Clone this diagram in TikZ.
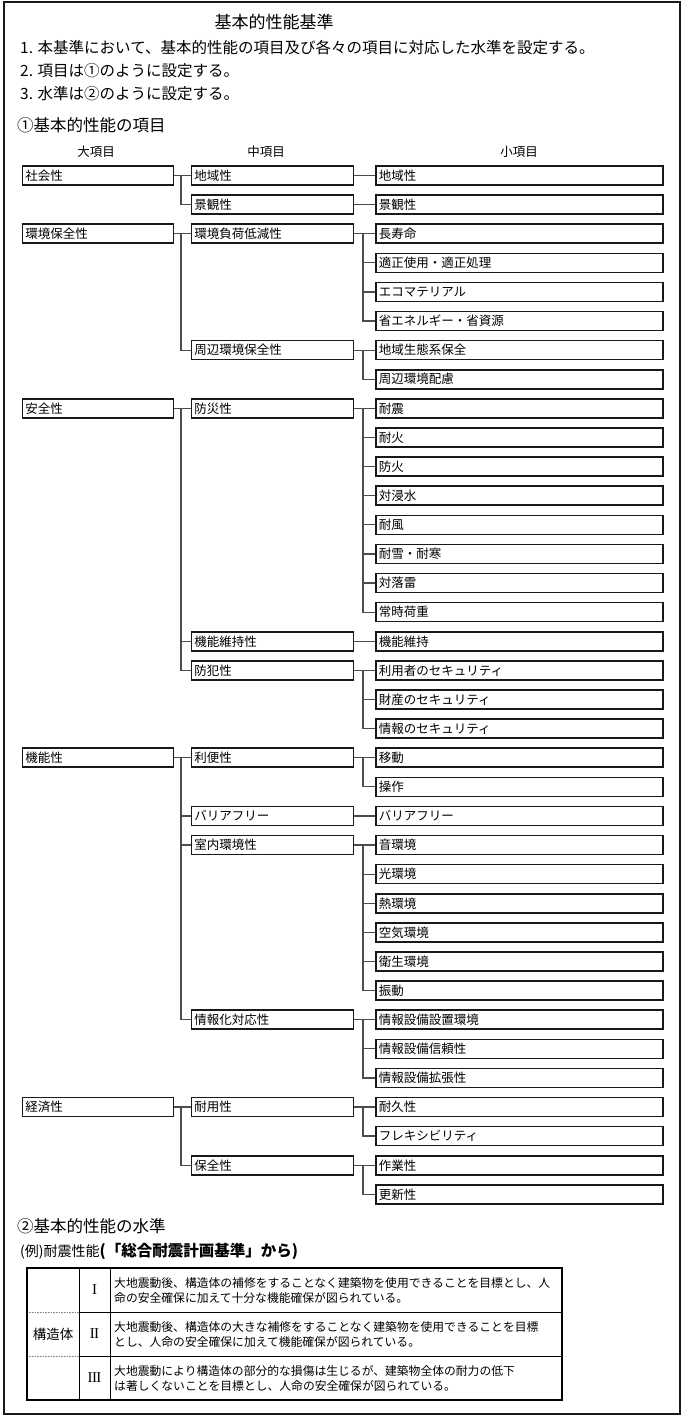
\documentclass[tikz,border=0pt]{standalone}
\usepackage{fontspec}
\newfontfamily\jp{Noto Sans CJK JP}
\newfontfamily\rmn{Liberation Serif}
\usetikzlibrary{calc}
\begin{document}
\begin{tikzpicture}[x=1pt,y=-1pt,
  every node/.style={font=\jp, inner sep=0pt},
  bx/.style={draw=black!90, line width=1.5pt, fill=white, anchor=west, minimum height=19pt, inner xsep=3pt, align=left, font=\jp\fontsize{12.5}{14}\selectfont},
  bA/.style={bx, text width=145pt},
  bB/.style={bx, text width=156pt},
  bC/.style={bx, text width=281pt},
  conn/.style={draw=black!70, line width=1.3pt},
  hdr/.style={anchor=west, font=\jp\fontsize{15.5}{17}\selectfont},
  cell/.style={font=\jp\fontsize{11.8}{15}\selectfont, align=left, anchor=west},
]
\useasboundingbox (0,0) rectangle (683,1416);
\draw[line width=2pt, draw=black!90] (3.5,1.5) rectangle (679.5,1414);

\node[font=\jp\fontsize{17}{19}\selectfont] (title) at (274,22) {基本的性能基準};
\node[hdr] (l1) at (20,48) {1. 本基準において、基本的性能の項目及び各々の項目に対応した水準を設定する。};
\node[hdr] (l2) at (20,71) {2. 項目は①のように設定する。};
\node[hdr] (l3) at (20,94) {3. 水準は②のように設定する。};
\node[anchor=west, font=\jp\fontsize{16.5}{18}\selectfont] (s1) at (17,125) {①基本的性能の項目};
\node[font=\jp\fontsize{12.5}{14}\selectfont] (hA) at (96,152) {大項目};
\node[font=\jp\fontsize{12.5}{14}\selectfont] (hB) at (266,152) {中項目};
\node[font=\jp\fontsize{12.5}{14}\selectfont] (hC) at (519,152) {小項目};

\coordinate (t1) at (181,0);
\coordinate (t2) at (363,0);

% column A
\node[bA] (a1) at (21.5,175.5+29.11*0) {社会性};
\node[bA] (a2) at (21.5,175.5+29.11*2) {環境保全性};
\node[bA] (a3) at (21.5,175.5+29.11*8) {安全性};
\node[bA] (a4) at (21.5,175.5+29.11*20) {機能性};
\node[bA] (a5) at (21.5,175.5+29.11*32) {経済性};

% column B
\node[bB] (b1) at (190.5,175.5+29.11*0) {地域性};
\node[bB] (b2) at (190.5,175.5+29.11*1) {景観性};
\node[bB] (b3) at (190.5,175.5+29.11*2) {環境負荷低減性};
\node[bB] (b4) at (190.5,175.5+29.11*6) {周辺環境保全性};
\node[bB] (b5) at (190.5,175.5+29.11*8) {防災性};
\node[bB] (b6) at (190.5,175.5+29.11*16) {機能維持性};
\node[bB] (b7) at (190.5,175.5+29.11*17) {防犯性};
\node[bB] (b8) at (190.5,175.5+29.11*20) {利便性};
\node[bB] (b9) at (190.5,175.5+29.11*22) {バリアフリー};
\node[bB] (b10) at (190.5,175.5+29.11*23) {室内環境性};
\node[bB] (b11) at (190.5,175.5+29.11*29) {情報化対応性};
\node[bB] (b12) at (190.5,175.5+29.11*32) {耐用性};
\node[bB] (b13) at (190.5,175.5+29.11*34) {保全性};

% column C
\node[bC] (c0) at (375,175.5+29.11*0) {地域性};
\node[bC] (c1) at (375,175.5+29.11*1) {景観性};
\node[bC] (c2) at (375,175.5+29.11*2) {長寿命};
\node[bC] (c3) at (375,175.5+29.11*3) {適正使用・適正処理};
\node[bC] (c4) at (375,175.5+29.11*4) {エコマテリアル};
\node[bC] (c5) at (375,175.5+29.11*5) {省エネルギー・省資源};
\node[bC] (c6) at (375,175.5+29.11*6) {地域生態系保全};
\node[bC] (c7) at (375,175.5+29.11*7) {周辺環境配慮};
\node[bC] (c8) at (375,175.5+29.11*8) {耐震};
\node[bC] (c9) at (375,175.5+29.11*9) {耐火};
\node[bC] (c10) at (375,175.5+29.11*10) {防火};
\node[bC] (c11) at (375,175.5+29.11*11) {対浸水};
\node[bC] (c12) at (375,175.5+29.11*12) {耐風};
\node[bC] (c13) at (375,175.5+29.11*13) {耐雪・耐寒};
\node[bC] (c14) at (375,175.5+29.11*14) {対落雷};
\node[bC] (c15) at (375,175.5+29.11*15) {常時荷重};
\node[bC] (c16) at (375,175.5+29.11*16) {機能維持};
\node[bC] (c17) at (375,175.5+29.11*17) {利用者のセキュリティ};
\node[bC] (c18) at (375,175.5+29.11*18) {財産のセキュリティ};
\node[bC] (c19) at (375,175.5+29.11*19) {情報のセキュリティ};
\node[bC] (c20) at (375,175.5+29.11*20) {移動};
\node[bC] (c21) at (375,175.5+29.11*21) {操作};
\node[bC] (c22) at (375,175.5+29.11*22) {バリアフリー};
\node[bC] (c23) at (375,175.5+29.11*23) {音環境};
\node[bC] (c24) at (375,175.5+29.11*24) {光環境};
\node[bC] (c25) at (375,175.5+29.11*25) {熱環境};
\node[bC] (c26) at (375,175.5+29.11*26) {空気環境};
\node[bC] (c27) at (375,175.5+29.11*27) {衛生環境};
\node[bC] (c28) at (375,175.5+29.11*28) {振動};
\node[bC] (c29) at (375,175.5+29.11*29) {情報設備設置環境};
\node[bC] (c30) at (375,175.5+29.11*30) {情報設備信頼性};
\node[bC] (c31) at (375,175.5+29.11*31) {情報設備拡張性};
\node[bC] (c32) at (375,175.5+29.11*32) {耐久性};
\node[bC] (c33) at (375,175.5+29.11*33) {フレキシビリティ};
\node[bC] (c34) at (375,175.5+29.11*34) {作業性};
\node[bC] (c35) at (375,175.5+29.11*35) {更新性};

% connectors A -> B
\foreach \p/\cl in {a1/{b1,b2}, a2/{b3,b4}, a3/{b5,b6,b7}, a4/{b8,b9,b10,b11}, a5/{b12,b13}}{
  \foreach \c in \cl { \draw[conn] (\p.east) -- (\p.east -| t1) |- (\c.west); }
}
% connectors B -> C
\foreach \p/\cl in {b1/{c0}, b2/{c1}, b3/{c2,c3,c4,c5}, b4/{c6,c7}, b5/{c8,c9,c10,c11,c12,c13,c14,c15}, b6/{c16}, b7/{c17,c18,c19}, b8/{c20,c21}, b9/{c22}, b10/{c23,c24,c25,c26,c27,c28}, b11/{c29,c30,c31}, b12/{c32,c33}, b13/{c34,c35}}{
  \foreach \c in \cl { \draw[conn] (\p.east) -- (\p.east -| t2) |- (\c.west); }
}

% section 2
\node[anchor=west, font=\jp\fontsize{16.5}{18}\selectfont] (s2) at (17,1226) {②基本的性能の水準};
\node[anchor=west, font=\jp\fontsize{14}{16}\selectfont] (ex) at (20,1251) {(例)耐震性能{\fontsize{15.5}{17}\selectfont\bfseries (「総合耐震計画基準」から)}};

% table
\coordinate (TL) at (27,1268);
\coordinate (BR) at (562,1400);
\draw[line width=0.8pt] (79,1268) -- (79,1400);
\draw[line width=0.8pt] (110,1268) -- (110,1400);
\draw[line width=0.8pt] (79,1312) -- (562,1312);
\draw[line width=0.8pt] (79,1356) -- (562,1356);
\draw[black!45, line width=0.6pt, densely dotted] (27,1312) -- (79,1312);
\draw[black!45, line width=0.6pt, densely dotted] (27,1356) -- (79,1356);
\draw[line width=1.8pt] (TL) rectangle (BR);

\node[font=\jp\fontsize{13.5}{15}\selectfont] (kz) at (53,1334) {構造体};
\node[font=\rmn\fontsize{15}{16}\selectfont] (r1) at (94.5,1290) {I};
\node[font=\rmn\fontsize{15}{16}\selectfont] (r2) at (94.5,1334) {I\kern-0.6ptI};
\node[font=\rmn\fontsize{15}{16}\selectfont] (r3) at (94.5,1378) {I\kern-0.6ptI\kern-0.6ptI};
\node[cell] (t1a) at (114,1290) {大地震動後、構造体の補修をすることなく建築物を使用できることを目標とし、人\\命の安全確保に加えて十分な機能確保が図られている。};
\node[cell] (t2a) at (114,1334) {大地震動後、構造体の大きな補修をすることなく建築物を使用できることを目標\\とし、人命の安全確保に加えて機能確保が図られている。};
\node[cell] (t3a) at (114,1378) {大地震動により構造体の部分的な損傷は生じるが、建築物全体の耐力の低下\\は著しくないことを目標とし、人命の安全確保が図られている。};
\end{tikzpicture}
\end{document}
